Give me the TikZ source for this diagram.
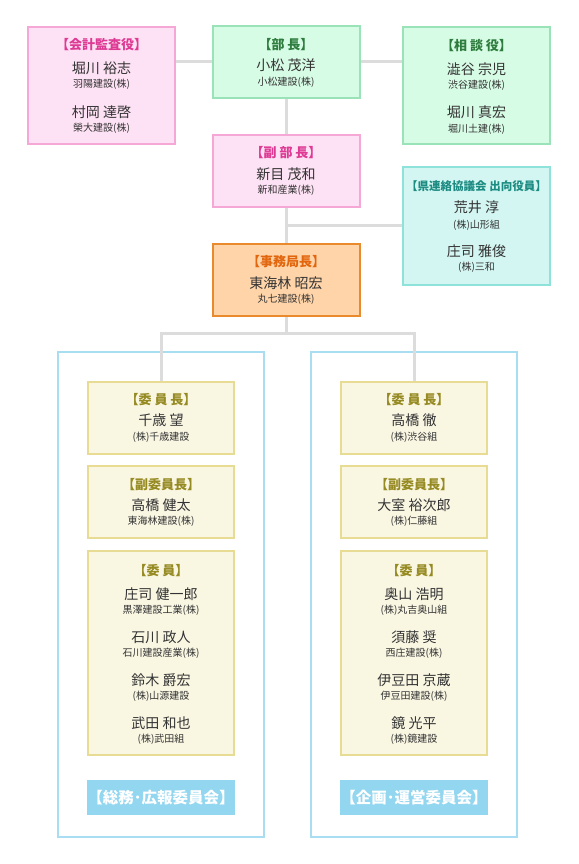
\documentclass[tikz,border=0pt]{standalone}
\usepackage{fontspec}
\setmainfont{Noto Sans CJK JP}
\usetikzlibrary{backgrounds}

\definecolor{pinkfill}{HTML}{FDE1F4}
\definecolor{pinkline}{HTML}{F5A8D5}
\definecolor{pinktext}{HTML}{DE3A94}
\definecolor{greenfill}{HTML}{D7FCE5}
\definecolor{greenline}{HTML}{9AE2B8}
\definecolor{greentext}{HTML}{2E7D3E}
\definecolor{tealfill}{HTML}{D3F6F2}
\definecolor{tealline}{HTML}{8DE2D9}
\definecolor{tealtext}{HTML}{1C8C82}
\definecolor{orangefill}{HTML}{FFD4A9}
\definecolor{orangeline}{HTML}{E98B2C}
\definecolor{orangetext}{HTML}{E2660E}
\definecolor{creamfill}{HTML}{F9F6E2}
\definecolor{creamline}{HTML}{E8DB93}
\definecolor{creamtext}{HTML}{968A22}
\definecolor{panelline}{HTML}{A9DDF1}
\definecolor{tagfill}{HTML}{93D6EF}
\definecolor{linkgray}{HTML}{DCDCDC}
\definecolor{bodytext}{HTML}{333333}

\begin{document}
\begin{tikzpicture}[x=1pt, y=-1pt,
		box/.style={line width=2pt, minimum width=147pt, inner sep=0pt},
		pinkbox/.style={box, draw=pinkline, fill=pinkfill},
		greenbox/.style={box, draw=greenline, fill=greenfill},
		tealbox/.style={box, draw=tealline, fill=tealfill},
		orangebox/.style={box, draw=orangeline, fill=orangefill},
		creambox/.style={box, draw=creamline, fill=creamfill},
		panel/.style={draw=panelline, line width=2pt, minimum width=206pt, minimum height=485pt, inner sep=0pt},
		tagbox/.style={fill=tagfill, text=white, font=\bfseries\fontsize{15.5}{17}\selectfont, minimum width=148pt, minimum height=35pt, inner sep=0pt},
		rolename/.style={font=\bfseries\fontsize{13}{15}\selectfont, inner sep=0pt},
		personname/.style={font=\fontsize{14}{16}\selectfont, text=bodytext, inner sep=0pt},
		firmname/.style={font=\fontsize{10}{12}\selectfont, text=bodytext, inner sep=0pt},
		link/.style={draw=linkgray, line width=3pt}]
		
		\useasboundingbox (0,0) rectangle (578,864);
		
		% --- FILA SUPERIOR ---
		\node[pinkbox, minimum height=117pt] (audit) at (101.5,85.5) {};
		\node[rolename, text=pinktext] (audit-t) at (101.5,45) {【会計監査役】};
		\node[personname] (audit-n1) at (101.5,68) {堀川 裕志};
		\node[firmname] (audit-f1) at (101.5,84.5) {羽陽建設(株)};
		\node[personname] (audit-n2) at (101.5,112) {村岡 達啓};
		\node[firmname] (audit-f2) at (101.5,128.5) {榮大建設(株)};
		
		\node[greenbox, minimum height=72pt] (chief) at (286,62) {};
		\node[rolename, text=greentext] (chief-t) at (286,44.5) {【部 長】};
		\node[personname] (chief-n) at (286,65) {小松 茂洋};
		\node[firmname] (chief-f) at (286,82.5) {小松建設(株)};
		
		\node[greenbox, minimum height=117pt] (advisor) at (476.5,85.5) {};
		\node[rolename, text=greentext] (advisor-t) at (476.5,45.5) {【相 談 役】};
		\node[personname] (advisor-n1) at (476.5,69) {澁谷 宗児};
		\node[firmname] (advisor-f1) at (476.5,85) {渋谷建設(株)};
		\node[personname] (advisor-n2) at (476.5,112.5) {堀川 真宏};
		\node[firmname] (advisor-f2) at (476.5,129) {堀川土建(株)};
		
		% --- LÍNEA CENTRAL ---
		\node[pinkbox, minimum height=72pt] (vice) at (286,171) {};
		\node[rolename, text=pinktext] (vice-t) at (286,152.5) {【副 部 長】};
		\node[personname] (vice-n) at (286,174) {新目 茂和};
		\node[firmname] (vice-f) at (286,190.5) {新和産業(株)};
		
		\node[tealbox, minimum height=118pt] (liaison) at (476.5,225.5) {};
		\node[rolename, text=tealtext, font=\bfseries\fontsize{11.5}{13}\selectfont] (liaison-t) at (476.5,186) {【県連絡協議会 出向役員】};
		\node[personname] (liaison-n1) at (476.5,207.5) {荒井 淳};
		\node[firmname] (liaison-f1) at (476.5,225) {(株)山形組};
		\node[personname] (liaison-n2) at (476.5,251) {庄司 雅俊};
		\node[firmname] (liaison-f2) at (476.5,267.5) {(株)三和};
		
		\node[orangebox, minimum height=72pt] (office) at (286,280) {};
		\node[rolename, text=orangetext] (office-t) at (286,261.5) {【事務局長】};
		\node[personname] (office-n) at (286,283) {東海林 昭宏};
		\node[firmname] (office-f) at (286,299) {丸七建設(株)};
		
		% --- COMITÉ IZQUIERDO ---
		\node[creambox, minimum width=146pt, minimum height=72pt] (lchair) at (161,418) {};
		\node[rolename, text=creamtext] (lchair-t) at (161,400) {【委 員 長】};
		\node[personname] (lchair-n) at (161,420) {千歳 望};
		\node[firmname] (lchair-f) at (161,437.5) {(株)千歳建設};
		
		\node[creambox, minimum width=146pt, minimum height=72pt] (lvice) at (161,502) {};
		\node[rolename, text=creamtext] (lvice-t) at (161,485) {【副委員長】};
		\node[personname] (lvice-n) at (161,505) {高橋 健太};
		\node[firmname] (lvice-f) at (161,521) {東海林建設(株)};
		
		\node[creambox, minimum width=146pt, minimum height=204pt] (lmembers) at (161,653) {};
		\node[rolename, text=creamtext] (lmembers-t) at (161,570.5) {【委 員】};
		\foreach \nm/\fm [count=\k] in {庄司 健一郎/黒澤建設工業(株), 石川 政人/石川建設産業(株),
				鈴木 爵宏/(株)山源建設, 武田 和也/(株)武田組}
		{
			\node[personname] (lm-n\k) at (161,551+43*\k) {\nm};
			\node[firmname] (lm-f\k) at (161,567.5+43*\k) {\fm};
		}
		\node[tagbox] (ltag) at (161,797.5) {【総務･広報委員会】};
		
		% --- COMITÉ DERECHO ---
		\node[creambox, minimum width=146pt, minimum height=72pt] (rchair) at (414,418) {};
		\node[rolename, text=creamtext] (rchair-t) at (414,400) {【委 員 長】};
		\node[personname] (rchair-n) at (414,420) {高橋 徹};
		\node[firmname] (rchair-f) at (414,437.5) {(株)渋谷組};
		
		\node[creambox, minimum width=146pt, minimum height=72pt] (rvice) at (414,502) {};
		\node[rolename, text=creamtext] (rvice-t) at (414,485) {【副委員長】};
		\node[personname] (rvice-n) at (414,505) {大室 裕次郎};
		\node[firmname] (rvice-f) at (414,521) {(株)仁藤組};
		
		\node[creambox, minimum width=146pt, minimum height=204pt] (rmembers) at (414,653) {};
		\node[rolename, text=creamtext] (rmembers-t) at (414,570.5) {【委 員】};
		\foreach \nm/\fm [count=\k] in {奥山 浩明/(株)丸吉奥山組, 須藤 奨/西庄建設(株),
				伊豆田 京蔵/伊豆田建設(株), 鏡 光平/(株)鏡建設}
		{
			\node[personname] (rm-n\k) at (414,551+43*\k) {\nm};
			\node[firmname] (rm-f\k) at (414,567.5+43*\k) {\fm};
		}
		\node[tagbox] (rtag) at (414,797.5) {【企画･運営委員会】};
		
		% --- MARCOS Y CONEXIONES (fondo) ---
		\begin{scope}[on background layer]
			\node[panel] (lpanel) at (161,594.5) {};
			\node[panel] (rpanel) at (414,594.5) {};
			\coordinate (bus) at (286,333);
			\draw[link] (audit.east |- chief.west) -- (chief.west);
			\draw[link] (chief.east) -- (chief.east -| advisor.west);
			\draw[link] (chief.south) -- (vice.north);
			\draw[link] (vice.south) -- (office.north);
			\draw[link] (vice.south |- liaison.west) -- (liaison.west);
			\draw[link] (office.south) -- (bus);
			\draw[link] (lchair.north) |- (bus) -| (rchair.north);
		\end{scope}
		
	\end{tikzpicture}
\end{document}
